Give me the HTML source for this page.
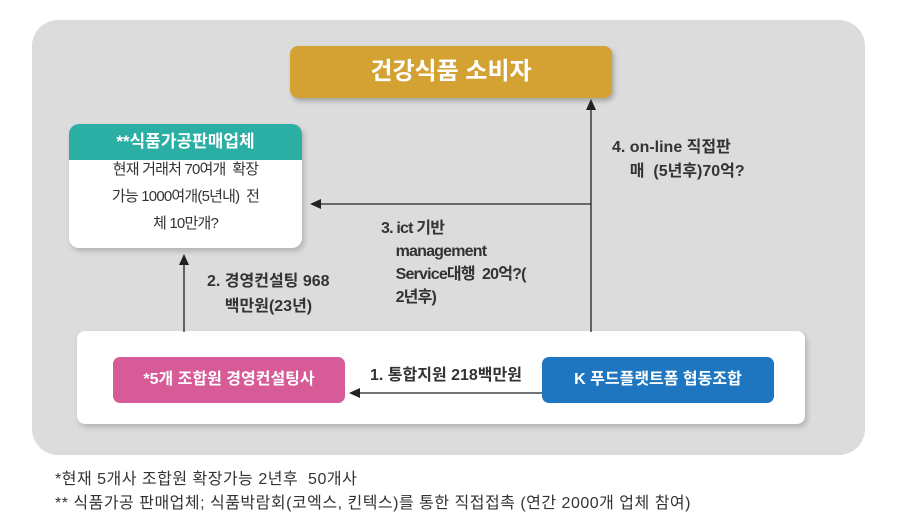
<!DOCTYPE html>
<html><head><meta charset="utf-8"><style>
body{margin:0;width:909px;height:526px;background:#fff;position:relative;font-family:"Liberation Sans","Noto Sans CJK KR",sans-serif;overflow:hidden}
.a{position:absolute;white-space:nowrap}
.bold{font-weight:bold}
</style></head><body>
<div class="a" style="left:32px;top:20px;width:833px;height:435px;background:#dcdcdc;border-radius:26px"></div>
<div class="a" style="left:290px;top:46px;width:322px;height:52px;background:#d4a233;border-radius:8px;box-shadow:2px 3px 5px rgba(0,0,0,.25);color:#fff;font-size:24px;font-weight:bold;text-align:center;line-height:52px">건강식품 소비자</div>
<div class="a" style="left:69px;top:124px;width:233px;height:124px;background:#fff;border-radius:10px;box-shadow:2px 3px 6px rgba(0,0,0,.2);overflow:hidden">
<div style="background:#2bafa5;height:36px;color:#fff;font-weight:bold;font-size:17px;text-align:center;line-height:36px">**식품가공판매업체</div>
<div style="text-align:center;font-size:15px;line-height:27px;color:#333;margin-top:-4px;letter-spacing:-0.8px">현재 거래처 70여개 &nbsp;확장<br>가능 1000여개(5년내) &nbsp;전<br>체 10만개?</div>
</div>
<div class="a" style="left:77px;top:331px;width:728px;height:93px;background:#fff;border-radius:8px;box-shadow:2px 3px 6px rgba(0,0,0,.2)"></div>
<div class="a" style="left:113px;top:357px;width:232px;height:46px;background:#d65b97;border-radius:7px;color:#fff;font-weight:bold;font-size:16px;text-align:center;line-height:46px">*5개 조합원 경영컨설팅사</div>
<div class="a" style="left:542px;top:357px;width:232px;height:46px;background:#1f76c0;border-radius:7px;color:#fff;font-weight:bold;font-size:16px;text-align:center;line-height:46px">K 푸드플랫트폼 협동조합</div>
<svg class="a" style="left:0;top:0" width="909" height="526">
<g stroke="#222" stroke-width="1.3" fill="none">
<line x1="591" y1="332" x2="591" y2="108"/>
<line x1="591" y1="204" x2="320" y2="204"/>
<line x1="184" y1="332" x2="184" y2="262"/>
<line x1="542" y1="393" x2="358" y2="393"/>
</g>
<g fill="#222">
<polygon points="591,99 586,110 596,110"/>
<polygon points="310,204 321,199 321,209"/>
<polygon points="184,254 179,265 189,265"/>
<polygon points="349,393 360,388 360,398"/>
</g>
</svg>
<div class="a bold" style="left:612px;top:136px;font-size:16px;line-height:24px;color:#333">4. on-line 직접판<br>&nbsp;&nbsp;&nbsp;&nbsp;매 &nbsp;(5년후)70억?</div>
<div class="a bold" style="left:381px;top:217px;font-size:16px;line-height:23px;color:#333;letter-spacing:-0.8px">3. ict 기반<br>&nbsp;&nbsp;&nbsp;&nbsp;management<br>&nbsp;&nbsp;&nbsp;&nbsp;Service대행 &nbsp;20억?(<br>&nbsp;&nbsp;&nbsp;&nbsp;2년후)</div>
<div class="a bold" style="left:207px;top:269px;font-size:16px;line-height:25px;color:#333">2. 경영컨설팅 968<br>&nbsp;&nbsp;&nbsp;&nbsp;백만원(23년)</div>
<div class="a bold" style="left:370px;top:361px;font-size:16px;color:#333">1. 통합지원 218백만원</div>
<div class="a" style="left:55px;top:468px;font-size:16px;line-height:24px;color:#333;letter-spacing:0.5px">*현재 5개사 조합원 확장가능 2년후 &nbsp;50개사<br>** 식품가공 판매업체; 식품박람회(코엑스, 킨텍스)를 통한 직접접촉 (연간 2000개 업체 참여)</div>
</body></html>
